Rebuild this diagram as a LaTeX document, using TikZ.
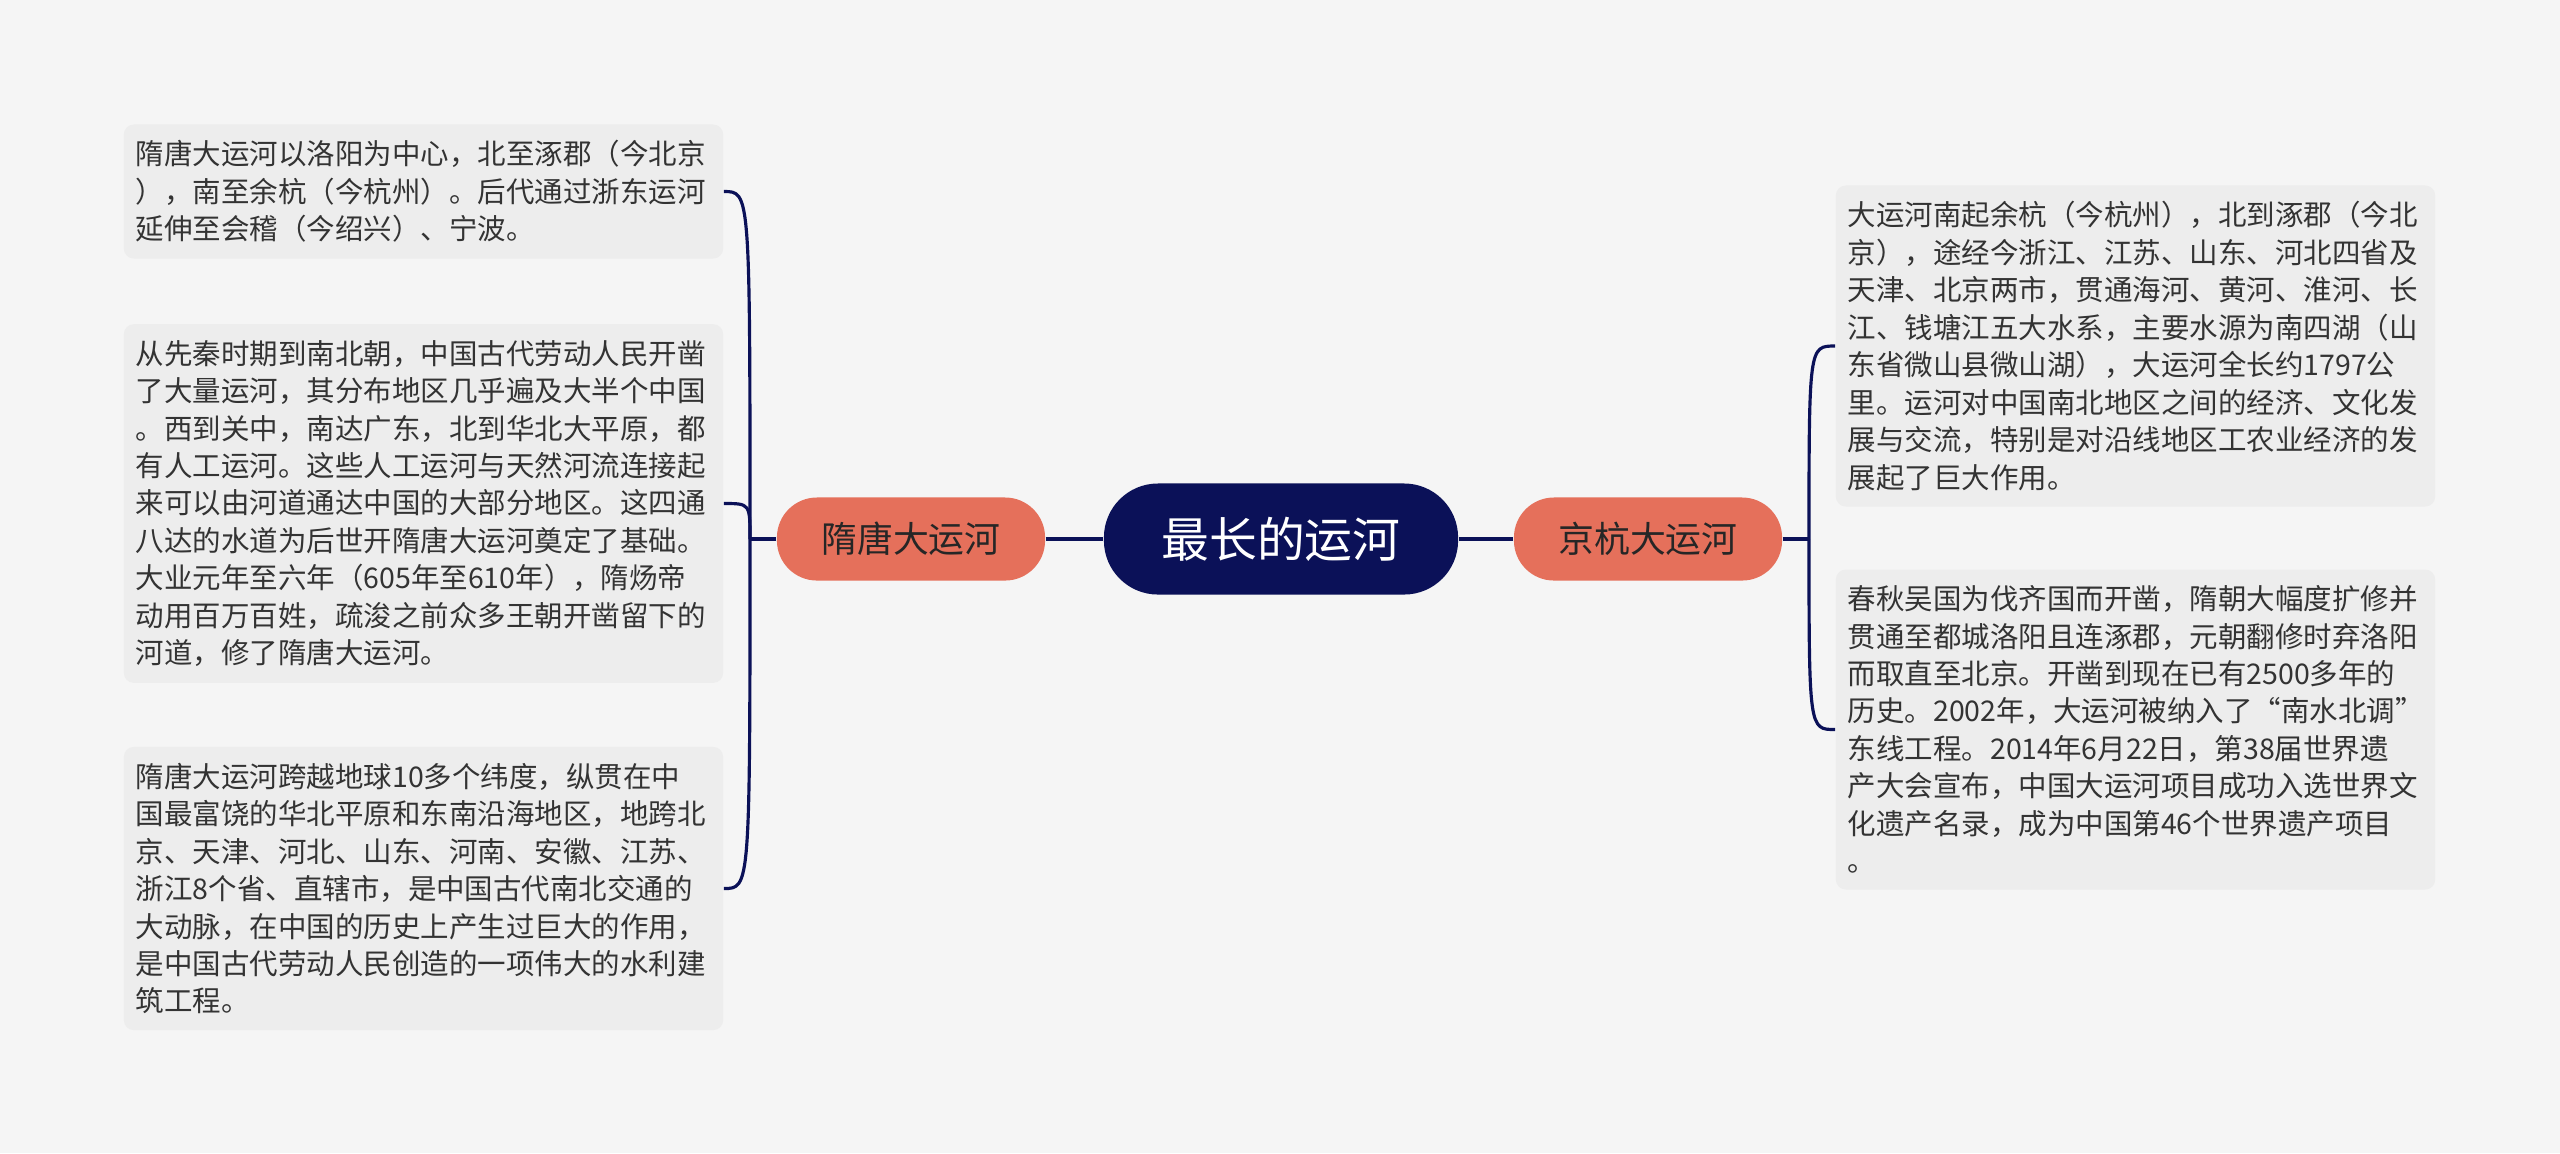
\documentclass[tikz,border=0pt]{standalone}
\usepackage{fontspec}
\setmainfont{Noto Sans CJK SC}
\usetikzlibrary{positioning,calc}
\definecolor{navy}{HTML}{0B1158}
\definecolor{salmon}{HTML}{E5705B}
\definecolor{bggray}{HTML}{F5F5F5}
\definecolor{boxgray}{HTML}{EDEDED}
\definecolor{txtgray}{HTML}{333333}

\begin{document}
\begin{tikzpicture}[x=0.01cm,y=-0.01cm,
  root/.style={fill=navy,text=white,rounded corners=0.54cm,minimum width=3.54cm,minimum height=1.11cm,font=\fontsize{13.6}{16}\selectfont},
  branch/.style={fill=salmon,text=black!85,rounded corners=0.4cm,minimum width=2.68cm,minimum height=0.83cm,font=\fontsize{10.2}{12}\selectfont},
  leaf/.style={fill=boxgray,text=txtgray,rounded corners=0.1cm,text width=5.75cm,inner xsep=0.12cm,inner ysep=0.16cm,align=left,font=\fontsize{8.1}{10.65}\selectfont},
  link/.style={draw=navy,line width=0.9pt}]
  \fill[bggray] (0,0) rectangle (2560,1153);
  \useasboundingbox (0,0) rectangle (2560,1153);

  % centre and the two branches
  \node[root] (root) at (1281,539) {最长的运河};
  \node[branch] (sui) at (911,539) {隋唐大运河};
  \node[branch] (jing) at (1648,539) {京杭大运河};
  \draw[link] (sui) -- (root);
  \draw[link] (root) -- (jing);

  % left notes
  \node[leaf] (sui1) at (423.5,191.5) {隋唐大运河以洛阳为中心，北至涿郡（今北京\\），南至余杭（今杭州）。后代通过浙东运河\\延伸至会稽（今绍兴）、宁波。};
  \node[leaf] (sui2) at (423.5,503.5) {从先秦时期到南北朝，中国古代劳动人民开凿\\了大量运河，其分布地区几乎遍及大半个中国\\。西到关中，南达广东，北到华北大平原，都\\有人工运河。这些人工运河与天然河流连接起\\来可以由河道通达中国的大部分地区。这四通\\八达的水道为后世开隋唐大运河奠定了基础。\\大业元年至六年（605年至610年），隋炀帝\\动用百万百姓，疏浚之前众多王朝开凿留下的\\河道，修了隋唐大运河。};
  \node[leaf] (sui3) at (423.5,888.5) {隋唐大运河跨越地球10多个纬度，纵贯在中\\国最富饶的华北平原和东南沿海地区，地跨北\\京、天津、河北、山东、河南、安徽、江苏、\\浙江8个省、直辖市，是中国古代南北交通的\\大动脉，在中国的历史上产生过巨大的作用，\\是中国古代劳动人民创造的一项伟大的水利建\\筑工程。};

  % right notes
  \node[leaf] (jing1) at (2135.5,346) {大运河南起余杭（今杭州），北到涿郡（今北\\京），途经今浙江、江苏、山东、河北四省及\\天津、北京两市，贯通海河、黄河、淮河、长\\江、钱塘江五大水系，主要水源为南四湖（山\\东省微山县微山湖），大运河全长约1797公\\里。运河对中国南北地区之间的经济、文化发\\展与交流，特别是对沿线地区工农业经济的发\\展起了巨大作用。};
  \node[leaf] (jing2) at (2135.5,729.5) {春秋吴国为伐齐国而开凿，隋朝大幅度扩修并\\贯通至都城洛阳且连涿郡，元朝翻修时弃洛阳\\而取直至北京。开凿到现在已有2500多年的\\历史。2002年，大运河被纳入了“南水北调”\\东线工程。2014年6月22日，第38届世界遗\\产大会宣布，中国大运河项目成功入选世界文\\化遗产名录，成为中国第46个世界遗产项目\\。};

  % brackets
  \coordinate (jl) at (750,539);
  \coordinate (jr) at (1809,539);
  \draw[link] (sui.west) -- (jl);
  \draw[link] (jing.east) -- (jr);
  \foreach \b in {sui1,sui2,sui3}
    \draw[link] (jl) .. controls (jl |- \b.east) .. (\b.east);
  \foreach \b in {jing1,jing2}
    \draw[link] (jr) .. controls (jr |- \b.west) .. (\b.west);
\end{tikzpicture}
\end{document}
